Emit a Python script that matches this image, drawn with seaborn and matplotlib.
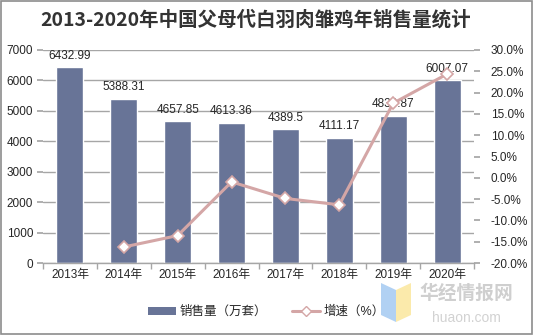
import numpy as np
import pandas as pd
import matplotlib
matplotlib.use("Agg")
import matplotlib.pyplot as plt
import seaborn as sns
from matplotlib.lines import Line2D
from matplotlib.patches import Patch, Rectangle, Polygon

years = ["2013年", "2014年", "2015年", "2016年", "2017年", "2018年", "2019年", "2020年"]
sales = [6432.99, 5388.31, 4657.85, 4613.36, 4389.5, 4111.17, 4830.87, 6007.07]
growth_years = ["2014年", "2015年", "2016年", "2017年", "2018年", "2019年", "2020年"]
growth = [-16.24, -13.56, -0.96, -4.85, -6.34, 17.51, 24.35]
sales_labels = ["6432.99", "5388.31", "4657.85", "4613.36", "4389.5", "4111.17", "4830.87", "6007.07"]

title = "2013-2020年中国父母代白羽肉雏鸡年销售量统计"
bar_name = "销售量（万套）"
line_name = "增速（%）"

sns.set_theme(style="white")
plt.rcParams["font.family"] = ["Liberation Sans", "Noto Sans CJK SC", "DejaVu Sans"]

bar_color = "#687497"
line_color = "#d4a6a6"
grid_color = "#a6a6a6"
text_color = "#262626"

fig = plt.figure(figsize=(5.33, 3.35), dpi=100)
L, R, T, B = 43 / 533, 474 / 533, 1 - 50 / 335, 1 - 263 / 335
ax = fig.add_axes([L, B, R - L, T - B])

df = pd.DataFrame({"year": years, "sales": sales})
sns.barplot(data=df, x="year", y="sales", order=years, color=bar_color,
            saturation=1, width=0.5, ax=ax, zorder=2)
ax.set_ylim(0, 7000)
ax.set_yticks(np.arange(0, 7001, 1000))
ax.set_xlim(-0.5, len(years) - 0.5)
ax.yaxis.grid(True, color=grid_color, lw=1)
ax.set_axisbelow(True)
for s in ["top", "left", "right"]:
    ax.spines[s].set_visible(False)
ax.spines["bottom"].set_color(grid_color)
ax.spines["bottom"].set_linewidth(1)
ax.set_xlabel("")
ax.set_ylabel("")
ax.tick_params(axis="y", length=4, color=grid_color, labelsize=8.5, labelcolor=text_color, pad=3, left=True)
ax.tick_params(axis="x", which="major", length=0, labelsize=8.5, labelcolor=text_color, pad=4)
ax.set_xticks(np.arange(-0.5, len(years)), minor=True)
ax.tick_params(axis="x", which="minor", length=4, color=grid_color, bottom=True)

for i, (v, lab) in enumerate(zip(sales, sales_labels)):
    ax.annotate(lab, (i, v), xytext=(0, 4), textcoords="offset points",
                ha="center", va="bottom", fontsize=8.5, color=text_color, zorder=5)

ax2 = ax.twinx()
pos = [years.index(y) for y in growth_years]
gdf = pd.DataFrame({"pos": pos, "growth": growth})
sns.lineplot(data=gdf, x="pos", y="growth", ax=ax2, color=line_color, lw=2.2,
             marker="D", markersize=6, markerfacecolor="white",
             markeredgecolor=line_color, markeredgewidth=1.2, zorder=4)
ax2.set_ylim(-20, 30)
ax2.set_yticks(np.arange(-20, 31, 5))
ax2.set_yticklabels([f"{v:.1f}%" for v in np.arange(-20, 31, 5)])
ax2.set_xlim(-0.5, len(years) - 0.5)
for s in ["top", "left", "right", "bottom"]:
    ax2.spines[s].set_visible(False)
ax2.set_ylabel("")
ax2.set_xlabel("")
ax2.tick_params(axis="y", length=4, color=grid_color, labelsize=8.5, labelcolor=text_color, pad=8, right=True)
ax2.grid(False)

fig.text(0.48, 1 - 20 / 335, title, ha="center", va="center", fontsize=14,
         fontweight="bold", color="#333333", family=["Noto Sans CJK SC"])

handles = [Patch(facecolor=bar_color, edgecolor="none"),
           Line2D([0], [0], color=line_color, lw=2.2, marker="D", markersize=5,
                  markerfacecolor="white", markeredgecolor=line_color)]
fig.legend(handles, [bar_name, line_name], loc="center", bbox_to_anchor=(0.5, 1 - 312 / 335),
           ncol=2, frameon=False, fontsize=9, handlelength=2.2, handleheight=0.6,
           columnspacing=2.0, handletextpad=0.3)

# watermark
fig.patches.append(Polygon([[381 / 533, 1 - 283 / 335], [396 / 533, 1 - 290 / 335],
                            [396 / 533, 1 - 322 / 335], [381 / 533, 1 - 315 / 335]],
                           closed=True, transform=fig.transFigure, facecolor="#a9ccf2",
                           edgecolor="none", alpha=0.9))
fig.patches.append(Polygon([[396 / 533, 1 - 290 / 335], [411 / 533, 1 - 283 / 335],
                            [411 / 533, 1 - 315 / 335], [396 / 533, 1 - 322 / 335]],
                           closed=True, transform=fig.transFigure, facecolor="#fbe8a2",
                           edgecolor="none", alpha=0.9))
fig.text(466 / 533, 1 - 293 / 335, "华经情报网", ha="center", va="center", fontsize=13.5,
         fontweight="bold", color="#cfcfcf", family=["Noto Sans CJK SC"])
fig.text(466 / 533, 1 - 318 / 335, "huaon.com", ha="center", va="center", fontsize=10,
         color="#d2d2d2")

fig.patches.append(Rectangle((0.001, 0.002), 0.997, 0.995, transform=fig.transFigure,
                             fill=False, edgecolor="#8c8c8c", lw=1.2))

fig.savefig("out.png", dpi=100)
